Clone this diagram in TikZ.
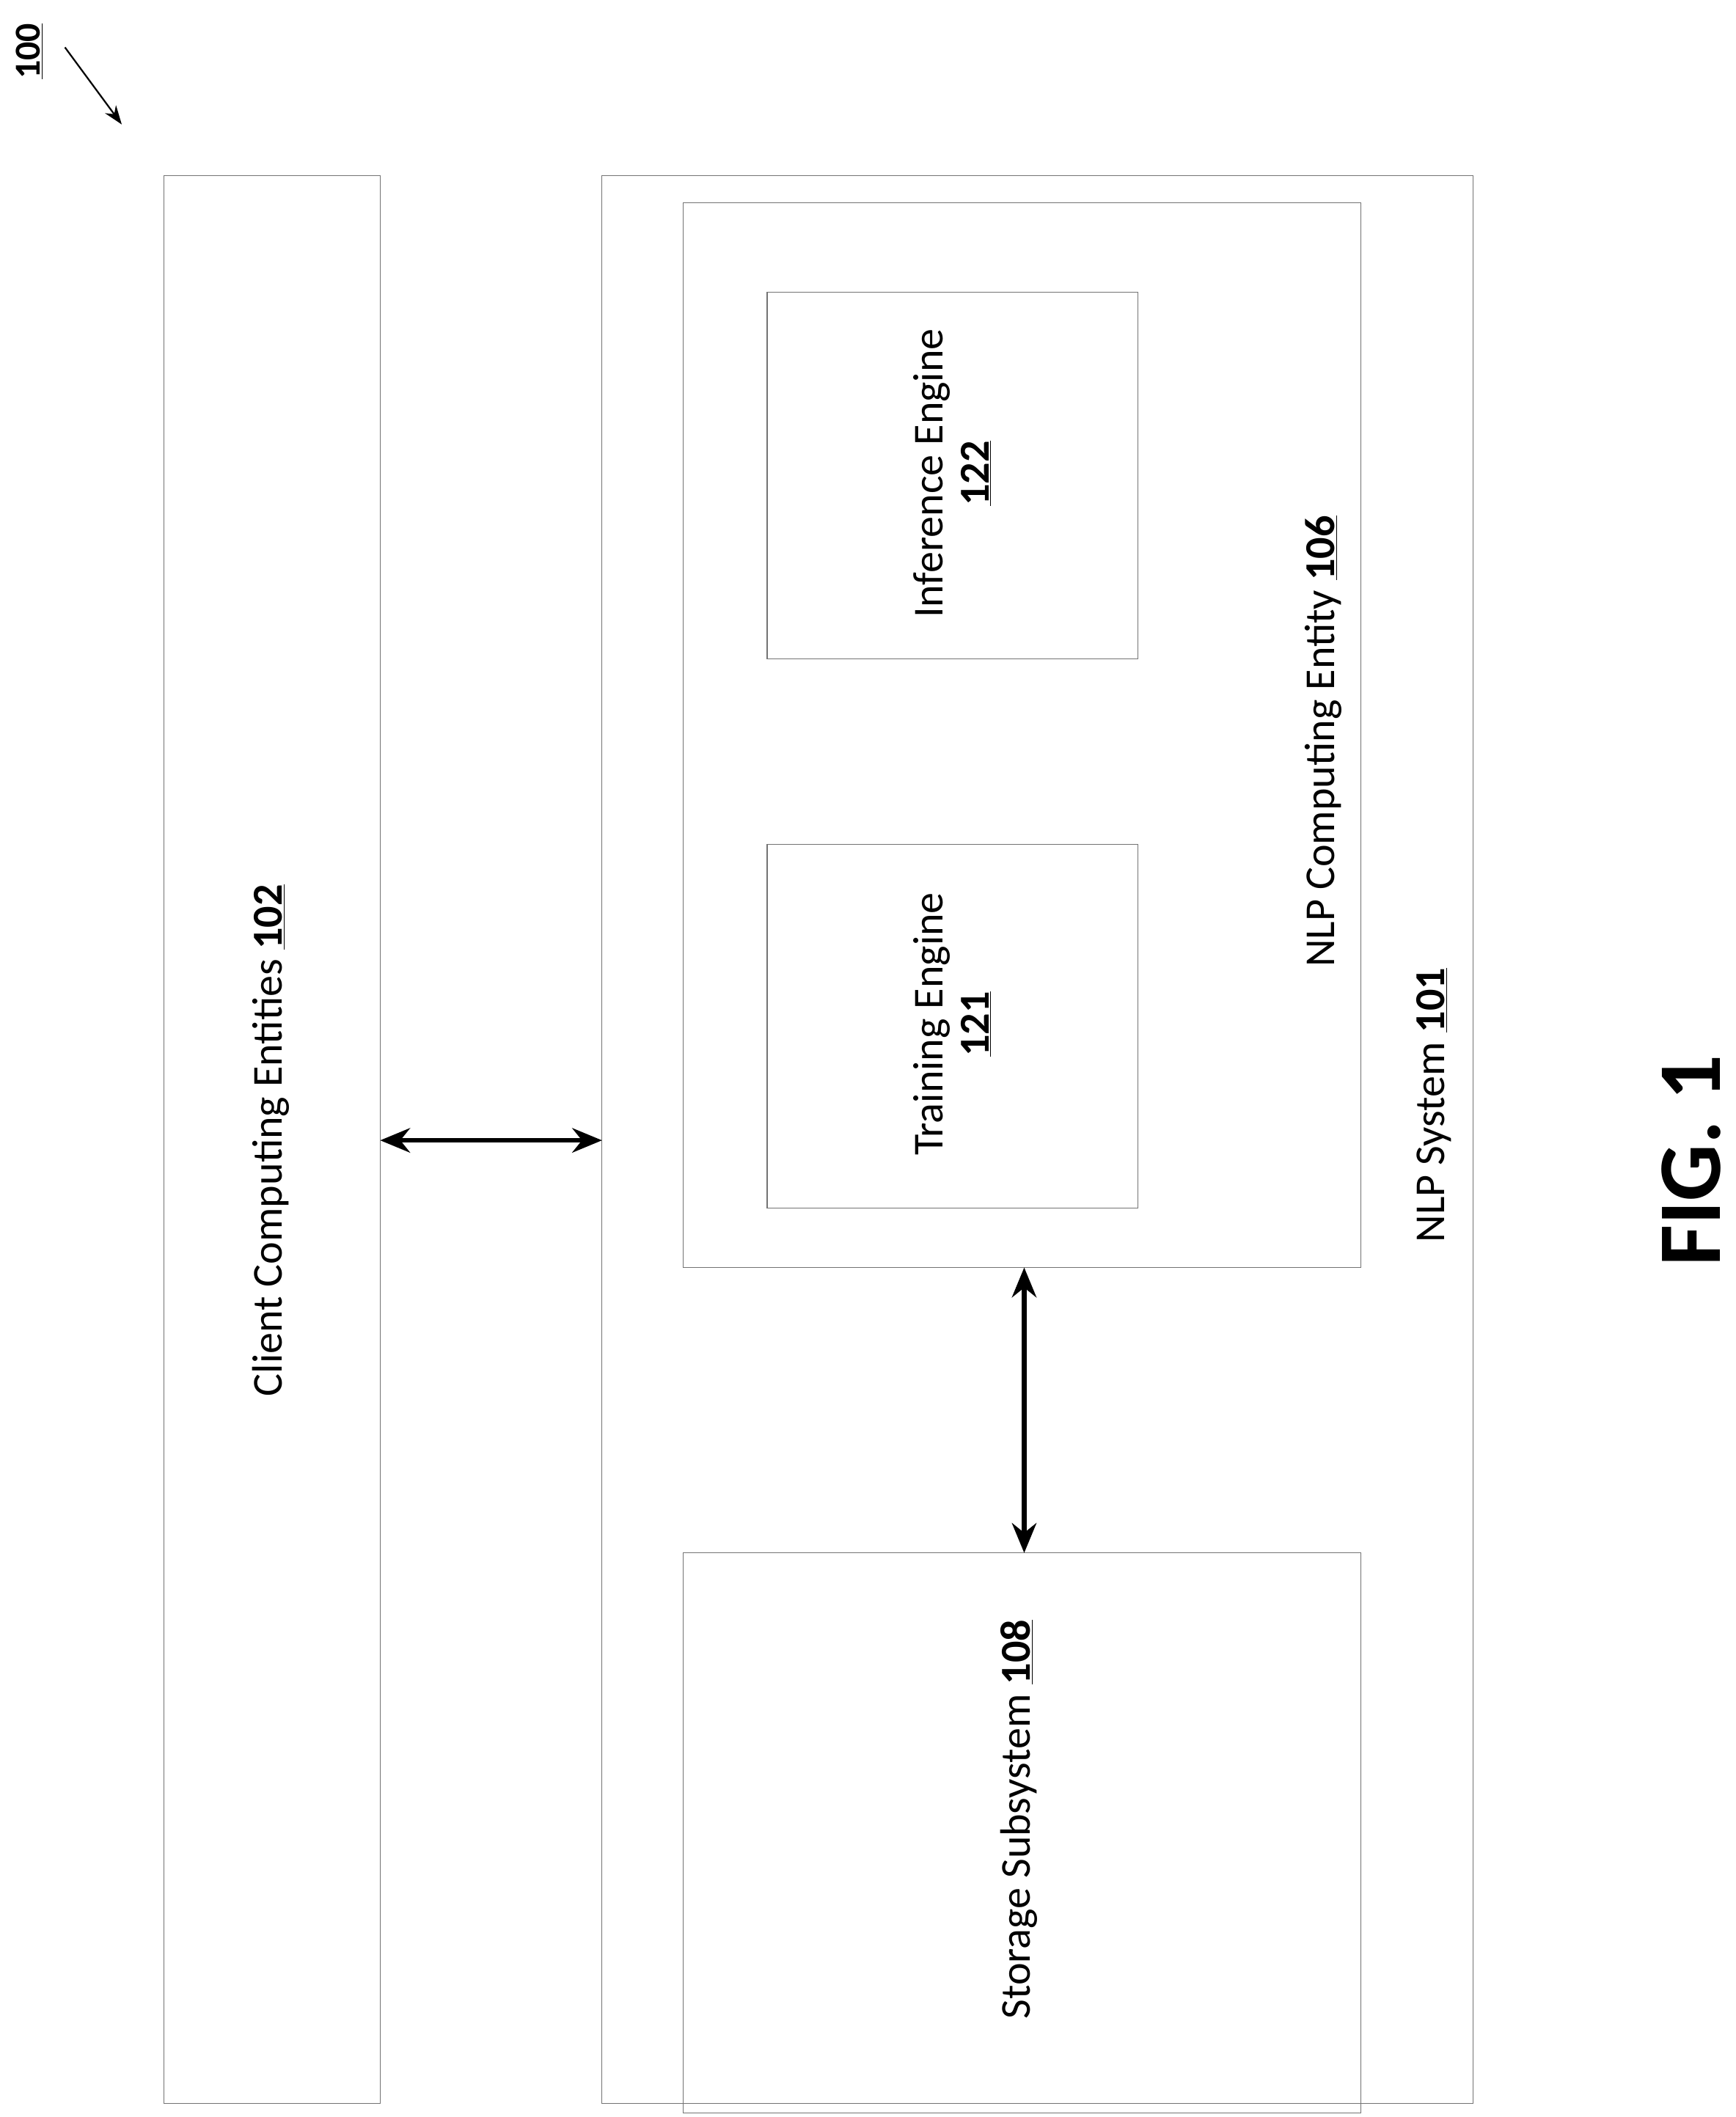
\documentclass[tikz,border=0pt]{standalone}
\usepackage{fontspec}
\setmainfont{Carlito}
\usetikzlibrary{arrows.meta}
\begin{document}
\begin{tikzpicture}[x=1pt,y=-1pt,
  box/.style={draw=black!55,line width=0.6pt},
  lbl/.style={rotate=90,font=\fontsize{31.5}{34}\selectfont,align=center},
  dbl/.style={line width=3.6pt,{Stealth[length=22pt,width=18pt]}-{Stealth[length=22pt,width=18pt]}}]
\useasboundingbox (0,0) rectangle (1283,1565);
\draw[box] (121,130) rectangle (281,1555);
\draw[box] (445,130) rectangle (1089,1555);
\draw[box] (505,150) rectangle (1006,937);
\draw[box] (567,216) rectangle (841,487);
\draw[box] (567,624) rectangle (841,893);
\draw[box] (505,1148) rectangle (1006,1562);
\coordinate (cr) at (281,843); \coordinate (sl) at (445,843);
\coordinate (nb) at (757,937); \coordinate (st) at (757,1148);
\draw[dbl] (cr) -- (sl);
\draw[dbl] (nb) -- (st);
\node[lbl] (client) at (200,843) {Client Computing Entities \underline{\textbf{102}}};
\node[lbl] (inf) at (704,350) {Inference Engine\\\underline{\textbf{122}}};
\node[lbl] (train) at (704,757) {Training Engine\\\underline{\textbf{121}}};
\node[lbl] (nlpce) at (978,548) {NLP Computing Entity \underline{\textbf{106}}};
\node[lbl] (nlps) at (1060,817) {NLP System \underline{\textbf{101}}};
\node[lbl] (stor) at (753,1345) {Storage Subsystem \underline{\textbf{108}}};
\node[rotate=90,font=\fontsize{66}{70}\selectfont\bfseries,inner sep=0pt] (fig) at (1250,858) {FIG. 1};
\node[rotate=90,font=\fontsize{27}{30}\selectfont\bfseries] (hundred) at (22,38) {\underline{100}};
\coordinate (a1) at (48,35); \coordinate (a2) at (90,92);
\draw[line width=1.2pt,-{Stealth[length=14pt,width=10pt]}] (a1) -- (a2);
\end{tikzpicture}
\end{document}
